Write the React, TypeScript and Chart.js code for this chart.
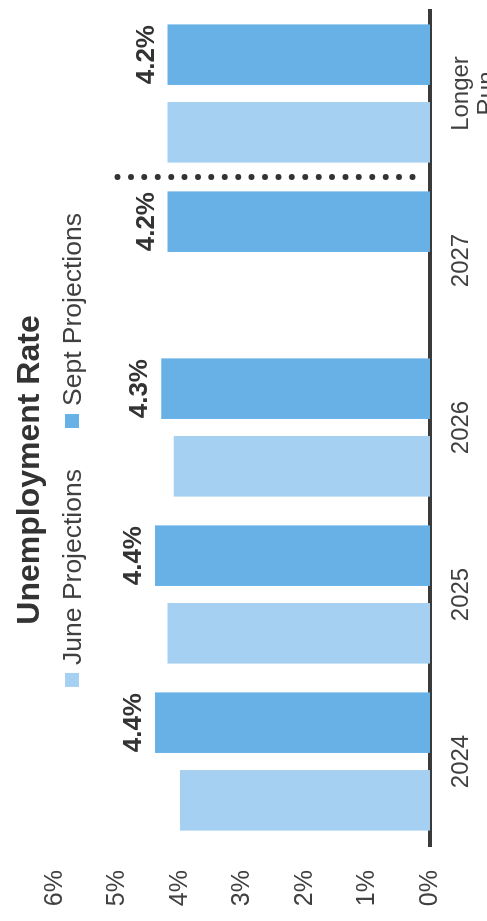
import React, { useEffect, useRef } from 'react';
import { Chart, registerables } from 'chart.js';

Chart.register(...registerables);

const FONT = '"Liberation Sans", Arial, Helvetica, sans-serif';

const titleText = 'Unemployment Rate';
const categories: (string | string[])[] = ['2024', '2025', '2026', '2027', ['Longer', 'Run']];
const seriesNames = ['June Projections', 'Sept Projections'];
const juneProjections: (number | null)[] = [4.0, 4.2, 4.1, null, 4.2];
const septProjections: (number | null)[] = [4.4, 4.4, 4.3, 4.2, 4.2];
const valueTicks = [0, 1, 2, 3, 4, 5, 6];
const seriesColors = ['#A6D0F1', '#67B1E7'];

const overlayPlugin = {
  id: 'overlay',
  afterDatasetsDraw(chart: any, _args: any, opts: any) {
    const { ctx, scales } = chart;
    const x = scales.x;
    const y = scales.y;
    // dotted separator between last projection year and longer run
    const sx = (x.getPixelForValue(opts.sepAfter) + x.getPixelForValue(opts.sepAfter + 1)) / 2;
    const y1 = y.getPixelForValue(opts.sepFrom);
    const y2 = y.getPixelForValue(opts.sepTo);
    ctx.save();
    ctx.strokeStyle = opts.sepColor;
    ctx.lineWidth = opts.sepWidth;
    ctx.lineCap = 'round';
    ctx.setLineDash([0, (y2 - y1) / (opts.sepDots - 1)]);
    ctx.beginPath();
    ctx.moveTo(sx, y1);
    ctx.lineTo(sx, y2 + 0.01);
    ctx.stroke();
    ctx.restore();

    // value labels above the Sept bars
    const meta = chart.getDatasetMeta(opts.labelDataset);
    const data = chart.data.datasets[opts.labelDataset].data;
    ctx.save();
    ctx.font = `bold ${opts.labelSize}px ${FONT}`;
    ctx.fillStyle = opts.labelColor;
    ctx.textAlign = 'center';
    ctx.textBaseline = 'alphabetic';
    meta.data.forEach((bar: any, i: number) => {
      const v = data[i];
      if (v == null) return;
      ctx.fillText(`${Number(v).toFixed(1)}%`, bar.x, bar.y - opts.labelOffset);
    });
    ctx.restore();
  },
  afterDraw(chart: any, _args: any, opts: any) {
    const { ctx } = chart;
    ctx.save();
    // title
    ctx.font = `bold ${opts.titleSize}px ${FONT}`;
    ctx.fillStyle = opts.titleColor;
    ctx.textAlign = 'center';
    ctx.textBaseline = 'alphabetic';
    ctx.fillText(opts.title, opts.titleX, opts.titleBaseline);

    // legend
    ctx.font = `${opts.legendSize}px ${FONT}`;
    const items = chart.data.datasets.map((d: any) => ({
      text: d.label,
      color: d.backgroundColor,
      w: ctx.measureText(d.label).width,
    }));
    const total =
      items.reduce((s: number, it: any) => s + opts.boxSize + opts.boxGap + it.w, 0) +
      opts.itemGap * (items.length - 1);
    let cx = opts.legendCenterX - total / 2;
    ctx.textAlign = 'left';
    items.forEach((it: any) => {
      ctx.fillStyle = it.color;
      ctx.fillRect(cx, opts.boxTop, opts.boxSize, opts.boxSize);
      cx += opts.boxSize + opts.boxGap;
      ctx.fillStyle = opts.legendColor;
      ctx.fillText(it.text, cx, opts.legendBaseline);
      cx += it.w + opts.itemGap;
    });
    ctx.restore();
  },
};

export default function App() {
  const canvasRef = useRef<HTMLCanvasElement | null>(null);

  useEffect(() => {
    const canvas = canvasRef.current;
    if (!canvas) return;
    const chart = new Chart(canvas, {
      type: 'bar',
      data: {
        labels: categories as any,
        datasets: [
          {
            label: seriesNames[0],
            data: juneProjections,
            backgroundColor: seriesColors[0],
            categoryPercentage: 0.93,
            barPercentage: 0.78,
          },
          {
            label: seriesNames[1],
            data: septProjections,
            backgroundColor: seriesColors[1],
            categoryPercentage: 0.93,
            barPercentage: 0.78,
          },
        ],
      },
      options: {
        responsive: false,
        maintainAspectRatio: false,
        devicePixelRatio: 1,
        animation: false,
        layout: { padding: { left: 14, right: 10, top: 55, bottom: 0 } },
        scales: {
          x: {
            type: 'category',
            grid: { display: false, drawTicks: false },
            border: { display: true, color: '#3a3a3a', width: 4 },
            ticks: {
              color: '#404040',
              font: { family: FONT, size: 24, lineHeight: 1.1 },
              padding: 18,
              maxRotation: 0,
              autoSkip: false,
            },
            afterFit: (s: any) => {
              s.height = 57;
            },
          },
          y: {
            min: valueTicks[0],
            max: valueTicks[valueTicks.length - 1],
            grid: { display: false, drawTicks: false },
            border: { display: false },
            afterBuildTicks: (s: any) => {
              s.ticks = valueTicks.map((v) => ({ value: v }));
            },
            ticks: {
              color: '#404040',
              font: { family: FONT, size: 25 },
              padding: 25,
              callback: (v: any) => `${v}%`,
            },
            afterFit: (s: any) => {
              s.width = 62;
            },
          },
        },
        plugins: {
          legend: { display: false },
          title: { display: false },
          tooltip: { enabled: false },
          overlay: {
            title: titleText,
            titleSize: 32,
            titleColor: '#333333',
            titleX: 451,
            titleBaseline: 39,
            legendSize: 26.5,
            legendColor: '#404040',
            legendCenterX: 471,
            legendBaseline: 81,
            boxTop: 65,
            boxSize: 14,
            boxGap: 8,
            itemGap: 41,
            labelDataset: 1,
            labelSize: 26,
            labelColor: '#333333',
            labelOffset: 14,
            sepAfter: 3,
            sepFrom: 5,
            sepTo: 0.28,
            sepDots: 23,
            sepColor: '#333333',
            sepWidth: 6,
          },
        } as any,
      },
      plugins: [overlayPlugin],
    });
    return () => chart.destroy();
  }, []);

  return (
    <div
      style={{
        position: 'fixed',
        left: 0,
        top: 0,
        width: 487,
        height: 921,
        overflow: 'hidden',
        background: '#ffffff',
      }}
    >
      <div
        style={{
          position: 'absolute',
          left: 0,
          top: 0,
          width: 921,
          height: 487,
          transformOrigin: '0 0',
          transform: 'translateY(921px) rotate(-90deg)',
        }}
      >
        <canvas
          ref={canvasRef}
          width={921}
          height={487}
          style={{ display: 'block', width: 921, height: 487 }}
        />
      </div>
    </div>
  );
}
